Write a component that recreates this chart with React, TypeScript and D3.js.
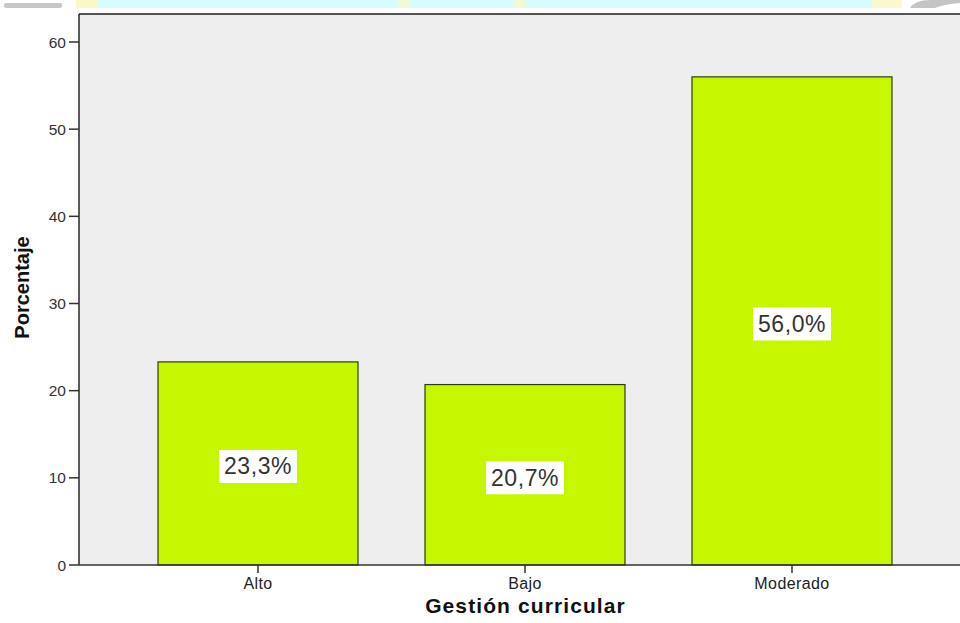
import React from "react";
import * as d3 from "d3";

const categories = ["Alto", "Bajo", "Moderado"];
const percentages = [23.3, 20.7, 56.0];
const valueLabels = ["23,3%", "20,7%", "56,0%"];
const yTicks = [0, 10, 20, 30, 40, 50, 60];
const xTitle = "Gestión curricular";
const yTitle = "Porcentaje";

const W = 960;
const H = 623;

export default function App() {
  const plotLeft = 79;
  const plotTop = 14;
  const plotBottom = 565;

  const y = d3.scaleLinear().domain([0, 60]).range([plotBottom, 42]);
  const x = d3
    .scaleBand<string>()
    .domain(categories)
    .range([91, 959])
    .paddingInner(0.251)
    .paddingOuter(0.251);

  const font = "Arial, 'Liberation Sans', Helvetica, sans-serif";

  return (
    <svg
      width={W}
      height={H}
      style={{ position: "absolute", left: 0, top: 0, background: "#fff" }}
      fontFamily={font}
    >
      <defs>
        <linearGradient id="yl" x1="0" x2="1" y1="0" y2="0">
          <stop offset="0" stopColor="#D6FCFF" />
          <stop offset="0.5" stopColor="#F8F8CC" />
          <stop offset="1" stopColor="#D6FCFF" />
        </linearGradient>
      </defs>
      {/* decorative top strip from the source image */}
      <rect x={90} y={0} width={790} height={8} fill="#D6FCFF" />
      <rect x={76} y={0} width={22} height={8} fill="#FBF8C8" />
      <rect x={394} y={0} width={20} height={8} fill="url(#yl)" />
      <rect x={510} y={0} width={20} height={8} fill="url(#yl)" />
      <rect x={872} y={0} width={30} height={8} fill="#FBF8D0" />
      <rect x={4} y={3} width={58} height={5} rx={2} fill="#C8C8C8" />
      <path d="M910,8 Q915,0 930,0 L960,0 L960,3 Q945,4 935,8 Z" fill="#C4C4C4" />

      {/* plot background */}
      <rect x={plotLeft} y={plotTop} width={W - plotLeft} height={plotBottom - plotTop} fill="#EEEEEE" />
      <line x1={plotLeft} x2={W} y1={plotTop} y2={plotTop} stroke="#555" strokeWidth={2} />

      {/* bars */}
      {categories.map((c, i) => (
        <rect
          key={c}
          x={x(c)!}
          y={y(percentages[i])}
          width={x.bandwidth()}
          height={y(0) - y(percentages[i])}
          fill="#C5F800"
          stroke="#2f3a10"
          strokeWidth={1.2}
        />
      ))}

      {/* value labels */}
      {categories.map((c, i) => {
        const cx = x(c)! + x.bandwidth() / 2;
        const cy = (y(percentages[i]) + y(0)) / 2 + 3;
        const bw = 78;
        const bh = 33;
        return (
          <g key={c + "lbl"}>
            <rect x={cx - bw / 2} y={cy - bh / 2} width={bw} height={bh} fill="#fff" />
            <text
              x={cx}
              y={cy + 8}
              textAnchor="middle"
              fontSize={23}
              fill="#333"
              letterSpacing={0.6}
            >
              {valueLabels[i]}
            </text>
          </g>
        );
      })}

      {/* axes */}
      <line x1={plotLeft} x2={plotLeft} y1={plotTop} y2={plotBottom} stroke="#333" strokeWidth={1.6} />
      <line x1={plotLeft} x2={W} y1={plotBottom} y2={plotBottom} stroke="#333" strokeWidth={1.6} />

      {yTicks.map((t) => (
        <g key={t}>
          <line x1={69} x2={plotLeft} y1={y(t)} y2={y(t)} stroke="#333" strokeWidth={1.5} />
          <text x={66} y={y(t) + 5.5} textAnchor="end" fontSize={15.5} fill="#333">
            {t}
          </text>
        </g>
      ))}

      {categories.map((c) => {
        const cx = x(c)! + x.bandwidth() / 2;
        return (
          <g key={c + "tick"}>
            <line x1={cx} x2={cx} y1={plotBottom} y2={plotBottom + 8} stroke="#333" strokeWidth={1.5} />
            <text x={cx} y={589} textAnchor="middle" fontSize={16} fill="#222" letterSpacing={0.4}>
              {c}
            </text>
          </g>
        );
      })}

      <text
        x={(plotLeft + W) / 2 + 6}
        y={613}
        textAnchor="middle"
        fontSize={21}
        fontWeight="bold"
        fill="#111"
        letterSpacing={1.1}
      >
        {xTitle}
      </text>
      <text
        transform={`translate(29, ${(plotTop + plotBottom) / 2 - 2}) rotate(-90)`}
        textAnchor="middle"
        fontSize={20}
        fontWeight="bold"
        fill="#111"
      >
        {yTitle}
      </text>
    </svg>
  );
}
